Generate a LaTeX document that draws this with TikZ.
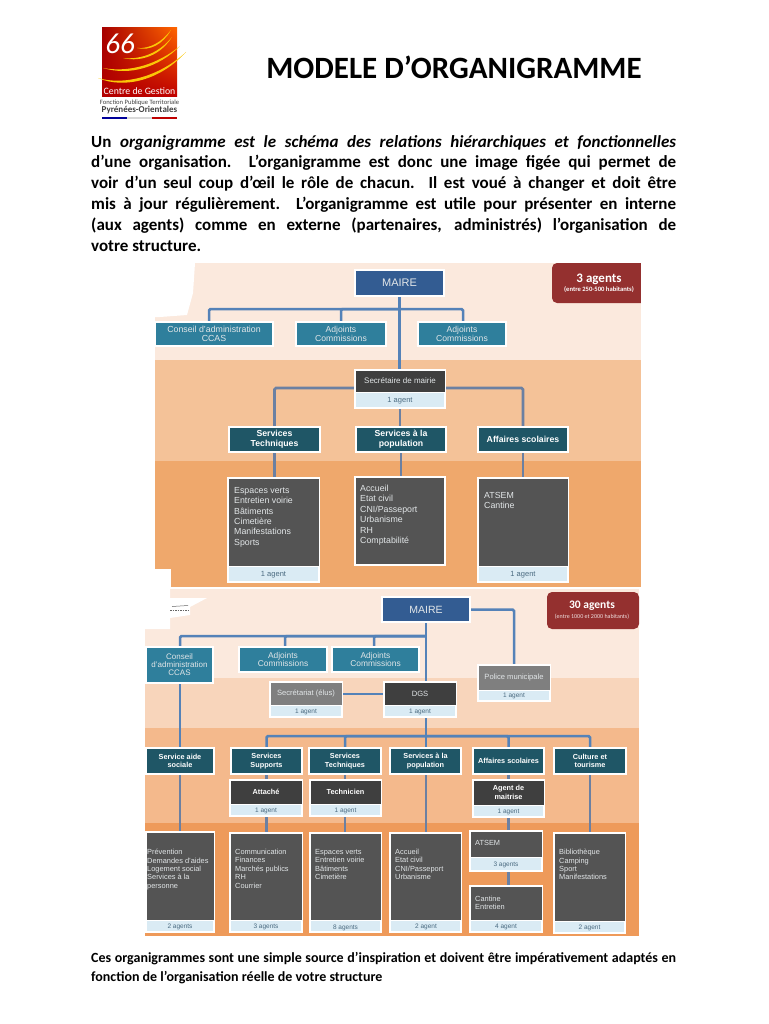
\documentclass[tikz,border=0pt]{standalone}
\usepackage{fontspec}
\setmainfont{Carlito}
\newfontfamily\arl{Liberation Sans}
\usetikzlibrary{shadows,shadings}
\definecolor{bandA}{HTML}{FBE9DD}
\definecolor{bandB}{HTML}{F4C298}
\definecolor{bandC}{HTML}{EFA86C}
\definecolor{bandD}{HTML}{F8D5BB}
\definecolor{bandE}{HTML}{F4B98C}
\definecolor{bandF}{HTML}{EE9A5A}
\definecolor{blueM}{HTML}{335C92}
\definecolor{tealL}{HTML}{2F7F9C}
\definecolor{tealD}{HTML}{1F5666}
\definecolor{darkH}{HTML}{3F3F3F}
\definecolor{darkB}{HTML}{545454}
\definecolor{grayP}{HTML}{7F7F7F}
\definecolor{lightB}{HTML}{DAEBF4}
\definecolor{redA}{HTML}{94302F}
\definecolor{lineA}{HTML}{5482B8}
\definecolor{lineB}{HTML}{6B80A2}
\definecolor{txtL}{HTML}{E2E6E8}
\definecolor{agentT}{HTML}{4A6A80}
\pgfdeclarelayer{bandlayer}
\pgfdeclarelayer{connlayer}
\pgfsetlayers{bandlayer,connlayer,main}
\tikzset{
  cardbox/.style={draw=white,line width=1.4pt,inner sep=0pt,outer sep=0pt,anchor=north west,align=center,
    drop shadow={shadow xshift=0.6pt,shadow yshift=-1pt,opacity=.4,fill=black}},
  plainpart/.style={draw=white,line width=1pt,inner sep=0pt,outer sep=0pt,anchor=north west,align=center},
  connA/.style={draw=lineA,line width=2.5pt,rounded corners=1.5pt},
  connB/.style={draw=lineB,line width=2.8pt,rounded corners=1.5pt},
  lab/.style={font=\arl\fontsize{#1}{#1}\selectfont,text=txtL},
  lab/.default=8,
  listA/.style={inner sep=0pt,anchor=north west,align=left,text=txtL,font=\arl\fontsize{8.8}{10.4}\selectfont},
  listB/.style={inner sep=0pt,anchor=north west,align=left,text=txtL,font=\arl\fontsize{7.4}{8.4}\selectfont},
  agentA/.style={text=agentT,font=\arl\fontsize{7.5}{8}\selectfont},
  agentB/.style={text=agentT,font=\arl\fontsize{6.5}{7}\selectfont},
  headA/.style={text=white,font=\arl\bfseries\fontsize{8.7}{10}\selectfont},
  headB/.style={text=white,font=\arl\bfseries\fontsize{7.3}{8.6}\selectfont},
  para/.style={inner sep=0pt,anchor=north west,text width=585pt,align=justify}
}
% plain box: name x1 y1 x2 y2 colour textstyle text
\newcommand{\pbox}[8]{\node[cardbox,fill=#6,#7,minimum width=\dimexpr #4pt-#2pt\relax,minimum height=\dimexpr #5pt-#3pt\relax] (#1) at (#2,#3) {#8};}
\begin{document}
\begin{tikzpicture}[x=1pt,y=-1pt]
\useasboundingbox (0,0) rectangle (768,1024);
% ---------- logo
\shade[upper left=red!65!black,lower left=red!70!black,upper right=orange!80!red,lower right=red!75!black] (102,28) rectangle (177,97);
\foreach \a/\b/\c/\d/\e/\f/\g/\h/\w in {
 98/78/125/86/160/76/186/52/3.6,
 103/68/130/73/158/64/180/46/3.2,
 123/58/142/60/160/52/172/37/2.6,
 137/48/150/49/162/42/171/30/2.2}{
  \fill[yellow!60!orange] (\a,\b) .. controls (\c,\d) and (\e,\f) .. (\g,\h)
     .. controls (\e+1,\f+\w) and (\c,\d+\w) .. (\a,\b) -- cycle;
}
\node[inner sep=0pt,text=white,font=\itshape\fontsize{29}{29}\selectfont] (logo66) at (120,44) {66};
\node[inner sep=0pt,text=white,font=\fontsize{9.8}{12}\selectfont] (logoA) at (139.5,91) {Centre de Gestion};
\node[inner sep=0pt,text=black!75,font=\fontsize{6.6}{7}\selectfont] (logoB) at (139.5,103) {Fonction Publique Territoriale};
\node[inner sep=0pt,text=black!75,font=\bfseries\fontsize{9}{9}\selectfont] (logoC) at (139.5,110) {Pyrénées-Orientales};
\fill[blue!60!black] (102,117) rectangle (127,118.6);
\fill[gray!30] (127,117) rectangle (152,118.6);
\fill[red!75!black] (152,117) rectangle (177,118.6);
% ---------- text
\node[inner sep=0pt,font=\bfseries\fontsize{31}{31}\selectfont] (title) at (454,67) {MODELE D’ORGANIGRAMME};
\node[para,font=\bfseries\fontsize{17}{20.8}\selectfont] (intro) at (91,135) {Un \textit{organigramme est le schéma des relations hiérarchiques et fonctionnelles}\linebreak
d’une organisation. L’organigramme est donc une image figée qui permet de\linebreak
voir d’un seul coup d’œil le rôle de chacun. Il est voué à changer et doit être\linebreak
mis à jour régulièrement. L’organigramme est utile pour présenter en interne\linebreak
(aux agents) comme en externe (partenaires, administrés) l’organisation de\linebreak
votre structure.};
\node[para,font=\bfseries\fontsize{14}{19.2}\selectfont] (outro) at (91,952) {Ces organigrammes sont une simple source d’inspiration et doivent être impérativement adaptés en\linebreak
fonction de l’organisation réelle de votre structure};
% ---------- bands
\begin{pgfonlayer}{bandlayer}
\fill[bandA] (155,263) rectangle (641,360);
\fill[bandB] (155,360) rectangle (641,461);
\fill[bandC] (155,461) rectangle (641,587);
\fill[white] (155,263) -- (195,263) -- (193,293) -- (187,315) -- (160,317) -- (155,317) -- cycle;
\fill[white] (155,569) -- (171,569) -- (171,587) -- (155,587) -- cycle;
\fill[bandA] (145,589) rectangle (639,678);
\fill[bandD] (145,678) rectangle (639,728);
\fill[bandE] (145,728) rectangle (639,823);
\fill[bandF] (145,823) rectangle (639,936);
\fill[white] (145,589) -- (170,589) -- (170,598) -- (207,598) -- (190,607) -- (190,615) -- (170,618) -- (170,629) -- (145,629) -- cycle;
\draw[black!60,line width=0.6pt,dash pattern=on 1.5pt off 1pt] (170,610) -- (188,610);
\draw[black!60,line width=0.5pt] (172,606.5) -- (188,605.5);
\end{pgfonlayer}
% ---------- top chart
\pbox{maireA}{355}{270}{444}{296}{blueM}{lab=11}{MAIRE}
\pbox{conseilA}{155}{322}{273}{346}{tealL}{lab=8.8}{Conseil d’administration\\CCAS}
\pbox{adjA}{296}{322}{386}{346}{tealL}{lab=8.6}{Adjoints\\Commissions}
\pbox{adjB}{418}{322}{506}{346}{tealL}{lab=8.6}{Adjoints\\Commissions}
\pbox{secA}{355}{370}{445}{408}{lightB}{}{}
\node[plainpart,fill=darkH,lab=8,minimum width=90pt,minimum height=22pt] (secAtop) at (355,370) {\raisebox{-6pt}{Secrétaire de mairie}};
\node[agentA] (secAag) at (400,400.5) {1 agent};
\pbox{stA}{229}{427}{320}{452}{tealD}{headA}{Services\\Techniques}
\pbox{spA}{356}{427}{446}{452}{tealD}{headA}{Services à la\\population}
\pbox{asA}{478}{427}{568}{452}{tealD}{headA}{Affaires scolaires}
% lists
\pbox{lstA}{228}{478}{319}{582}{lightB}{}{}
\node[plainpart,fill=darkB,minimum width=91pt,minimum height=88pt] (lstAtop) at (228,478) {};
\node[listA] (lstAtxt) at (234,487) {Espaces verts\\Entretien voirie\\Bâtiments\\Cimetière\\Manifestations\\Sports};
\node[agentA] (lstAag) at (273.5,575) {1 agent};
\pbox{lspA}{355}{477}{445}{565}{darkB}{}{}
\node[listA] (lspAtxt) at (360,485) {Accueil\\Etat civil\\CNI/Passeport\\Urbanisme\\RH\\Comptabilité};
\pbox{lasA}{478}{478}{568}{582}{lightB}{}{}
\node[plainpart,fill=darkB,minimum width=90pt,minimum height=88pt] (lasAtop) at (478,478) {};
\node[listA] (lasAtxt) at (484,492) {ATSEM\\Cantine};
\node[agentA] (lasAag) at (523,575) {1 agent};
% red tag 1
\fill[redA,rounded corners=5pt] (660,263) -- (552,263) -- (552,303) -- (660,303) -- cycle;
\fill[white] (641,262) rectangle (665,304);
\node[inner sep=0pt,text=white,font=\bfseries\fontsize{13}{13}\selectfont] (tagA) at (599,279) {3 agents};
\node[inner sep=0pt,text=white,font=\bfseries\fontsize{6.6}{7}\selectfont] (tagAb) at (599,289.5) {(entre 250-500 habitants)};
\begin{pgfonlayer}{connlayer}
\coordinate (busA) at (399.5,309);
\coordinate (cA) at (209,322);
\coordinate (cB) at (341,322);
\coordinate (cC) at (463,322);
\draw[connA] (maireA.south) -- (maireA.south |- secA.north);
\draw[connA] (busA) -| (cA);
\draw[connA] (busA) -| (cB);
\draw[connA] (busA) -| (cC);
\draw[connB] (secA.west |- 0,388) -| (stA.north);
\draw[connB] (secA.east |- 0,388) -| (asA.north);
\draw[connB] (secA.south) -- (secA.south |- spA.north);
\draw[connB] (stA.south) -- (stA.south |- lstA.north);
\draw[connB] (spA.south) -- (spA.south |- lspA.north);
\draw[connB] (asA.south) -- (asA.south |- lasA.north);
\end{pgfonlayer}
% ---------- bottom chart
\pbox{maireB}{382}{597}{470}{622}{blueM}{lab=10.5}{MAIRE}
\pbox{conseilB}{146}{647}{213}{683}{tealL}{lab=8}{Conseil\\d’administration\\CCAS}
\pbox{adjC}{239}{647}{327}{672}{tealL}{lab=8.4}{Adjoints\\Commissions}
\pbox{adjD}{332}{647}{419}{672}{tealL}{lab=8.4}{Adjoints\\Commissions}
\pbox{policeB}{478}{665}{550}{701}{lightB}{}{}
\node[plainpart,fill=grayP,lab=7.6,minimum width=72pt,minimum height=25pt] (policeBtop) at (478,665) {Police municipale};
\node[agentB] (policeBag) at (514,696) {1 agent};
\pbox{secB}{270}{682}{342}{717}{lightB}{}{}
\node[plainpart,fill=grayP,lab=7.6,minimum width=72pt,minimum height=23pt] (secBtop) at (270,682) {Secrétariat (élus)};
\node[agentB] (secBag) at (306,712) {1 agent};
\pbox{dgsB}{384}{682}{456}{717}{lightB}{}{}
\node[plainpart,fill=darkH,lab=7.6,minimum width=72pt,minimum height=23pt] (dgsBtop) at (384,682) {DGS};
\node[agentB] (dgsBag) at (420,712) {1 agent};
\pbox{saB}{146}{748}{214}{774}{tealD}{headB}{Service aide\\sociale}
\pbox{ssB}{231}{748}{302}{774}{tealD}{headB}{Services\\Supports}
\pbox{stB}{309}{748}{381}{774}{tealD}{headB}{Services\\Techniques}
\pbox{spB}{390}{748}{461}{774}{tealD}{headB}{Services à la\\population}
\pbox{asB}{473}{748}{544}{774}{tealD}{headB}{Affaires scolaires}
\pbox{ctB}{554}{748}{626}{774}{tealD}{headB}{Culture et\\tourisme}
\pbox{attB}{230}{780}{302}{816}{lightB}{}{}
\node[plainpart,fill=darkH,headB,minimum width=72pt,minimum height=24pt] (attBtop) at (230,780) {Attaché};
\node[agentB] (attBag) at (266,811) {1 agent};
\pbox{tecB}{310}{780}{381}{816}{lightB}{}{}
\node[plainpart,fill=darkH,headB,minimum width=71pt,minimum height=24pt] (tecBtop) at (310,780) {Technicien};
\node[agentB] (tecBag) at (345.5,811) {1 agent};
\pbox{agmB}{473}{780}{544}{817}{lightB}{}{}
\node[plainpart,fill=darkH,headB,minimum width=71pt,minimum height=25pt] (agmBtop) at (473,780) {Agent de\\maitrise};
\node[agentB] (agmBag) at (508.5,812) {1 agent};
% lists bottom
\pbox{lsaB}{146}{832}{214}{932}{lightB}{}{}
\node[plainpart,fill=darkB,minimum width=68pt,minimum height=88pt] (lsaBtop) at (146,832) {};
\node[listB] (lsaBtxt) at (147,849) {Prévention\\Demandes d’aides\\Logement social\\Services à la\\personne};
\node[agentB] (lsaBag) at (180,926.5) {2 agents};
\pbox{lssB}{230}{833}{302}{932}{lightB}{}{}
\node[plainpart,fill=darkB,minimum width=72pt,minimum height=87pt] (lssBtop) at (230,833) {};
\node[listB] (lssBtxt) at (235,849) {Communication\\Finances\\Marchés publics\\RH\\Courrier};
\node[agentB] (lssBag) at (266,927) {3 agents};
\pbox{lstB}{310}{833}{381}{932}{lightB}{}{}
\node[plainpart,fill=darkB,minimum width=71pt,minimum height=87pt] (lstBtop) at (310,833) {};
\node[listB] (lstBtxt) at (315,849) {Espaces verts\\Entretien voirie\\Bâtiments\\Cimetière};
\node[agentB] (lstBag) at (345.5,927.5) {8 agents};
\pbox{lspB}{390}{833}{461}{932}{lightB}{}{}
\node[plainpart,fill=darkB,minimum width=71pt,minimum height=87pt] (lspBtop) at (390,833) {};
\node[listB] (lspBtxt) at (395,849) {Accueil\\Etat civil\\CNI/Passeport\\Urbanisme};
\node[agentB] (lspBag) at (426,927) {2 agent};
\pbox{atsB}{470}{831}{542}{871}{lightB}{}{}
\node[plainpart,fill=darkB,minimum width=72pt,minimum height=26pt] (atsBtop) at (470,831) {};
\node[listB] (atsBtxt) at (475,840.5) {ATSEM};
\node[agentB] (atsBag) at (506,865) {3 agents};
\pbox{canB}{470}{886}{542}{932}{lightB}{}{}
\node[plainpart,fill=darkB,minimum width=72pt,minimum height=34pt] (canBtop) at (470,886) {};
\node[listB] (canBtxt) at (475,895.5) {Cantine\\Entretien};
\node[agentB] (canBag) at (506,926.5) {4 agent};
\pbox{lctB}{554}{833}{625}{933}{lightB}{}{}
\node[plainpart,fill=darkB,minimum width=71pt,minimum height=88pt] (lctBtop) at (554,833) {};
\node[listB] (lctBtxt) at (559,849) {Bibliothèque\\Camping\\Sport\\Manifestations};
\node[agentB] (lctBag) at (589.5,928) {2 agent};
% red tag 2
\fill[redA,rounded corners=5pt] (639,592) -- (547,592) -- (547,629) -- (639,629) -- cycle;
\node[inner sep=0pt,text=white,font=\bfseries\fontsize{11.5}{12}\selectfont] (tagB) at (592,606) {30 agents};
\node[inner sep=0pt,text=white!85!redA,font=\fontsize{6}{6}\selectfont] (tagBb) at (592,616.5) {(entre 1000 et 2000 habitants)};
\begin{pgfonlayer}{connlayer}
\coordinate (busB) at (426,636);
\coordinate (cD) at (180,647);
\coordinate (cE) at (285,647);
\coordinate (cF) at (374,647);
\coordinate (busC) at (426,736);
\coordinate (sG) at (180,748);
\coordinate (sH) at (180,832);
\draw[connA] (maireB.east) -| (policeB.north);
\draw[connA] (maireB.south) -- (maireB.south |- dgsB.north);
\draw[connA] (busB) -| (cD);
\draw[connA] (busB) -| (cE);
\draw[connA] (busB) -| (cF);
\draw[connA] (cD) -- (sG);
\draw[connA] (secB.east |- 0,694) -- (dgsB.west |- 0,694);
\draw[connA] (busC |- dgsB.south) -- (busC |- spB.north);
\draw[connA] (busC) -| (ssB.north);
\draw[connA] (busC) -| (stB.north);
\draw[connA] (busC) -| (asB.north);
\draw[connA] (busC) -| (ctB.north);
\draw[connB] (sG) -- (sH);
\draw[connB] (ssB.south) -- (ssB.south |- lssB.north);
\draw[connB] (stB.south) -- (stB.south |- lstB.north);
\draw[connB] (busC |- spB.south) -- (busC |- lspB.north);
\draw[connB] (asB.south) -- (asB.south |- atsB.north);
\draw[connB] (asB.south |- atsB.south) -- (asB.south |- canB.north);
\draw[connB] (ctB.south) -- (ctB.south |- lctB.north);
\end{pgfonlayer}
\end{tikzpicture}
\end{document}
